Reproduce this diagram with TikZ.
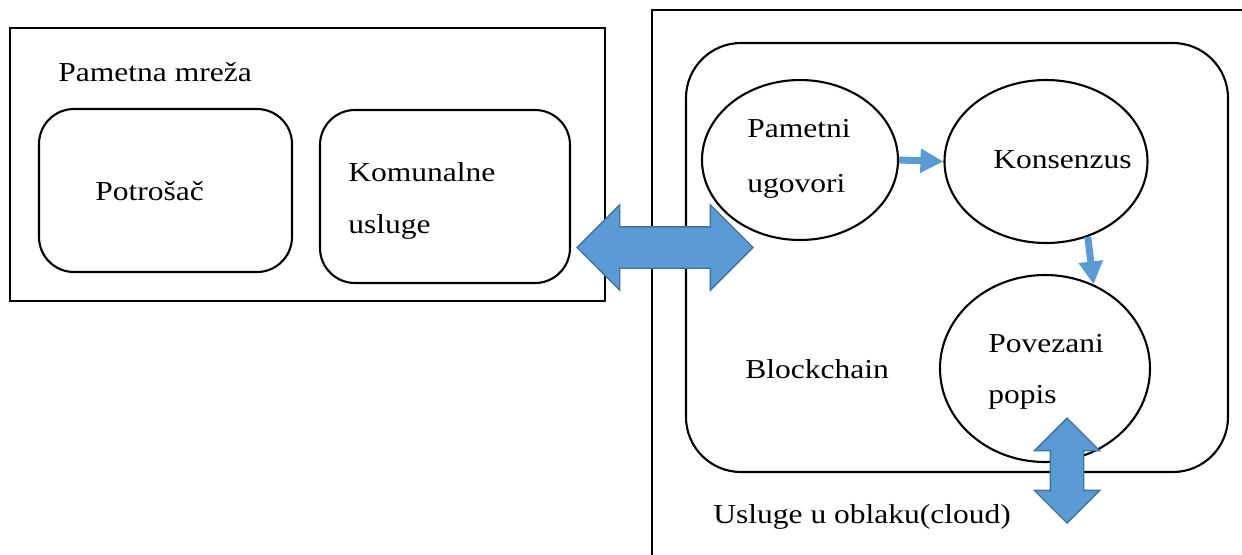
\documentclass[tikz,border=0pt]{standalone}
\usepackage{fontspec}
\setmainfont{Liberation Serif}[FakeStretch=1.15]
\usetikzlibrary{shapes.geometric,shapes.arrows,arrows.meta}
\definecolor{arrblue}{HTML}{5B9BD5}
\definecolor{arrline}{HTML}{41719C}
\begin{document}
\begin{tikzpicture}[x=0.02cm,y=-0.02cm]

\def\px{0.02cm}
\tikzstyle{frame} = [
	draw, line width=1.2pt, rectangle, inner sep=0pt ];
\tikzstyle{rbox} = [frame, rounded corners=35*\px];
\tikzstyle{oval} = [
	draw, line width=1.2pt, ellipse, inner sep=0pt ];
\tikzstyle{lbl} = [anchor=base west, inner sep=0pt,
	font=\fontsize{15.6}{18}\selectfont];
\tikzstyle{bigarrow} = [
	double arrow, fill=arrblue, draw=arrline, line width=0.8pt,
	inner xsep=0pt, double arrow tip angle=90 ];
\tikzstyle{smallarrow} = [
	arrblue, line width=7*\px,
	-{Triangle[width=23*\px,length=23*\px]} ];
\useasboundingbox (0,0) rectangle (1242,555);

% pametna mreza
\node[frame,minimum width=595*\px,minimum height=273*\px] (mreza) at (307.5,164.5) {};
\node[rbox,minimum width=253*\px,minimum height=163*\px] (potr) at (165.5,190.5) {};
\node[rbox,minimum width=250*\px,minimum height=173*\px] (komu) at (445,196.5) {};
\node[lbl] (tmreza) at (58,81) {Pametna mreža};
\node[lbl] (tpotr) at (95,200) {Potrošač};
\node[lbl] (tkomu1) at (348,181) {Komunalne};
\node[lbl] (tkomu2) at (348,233) {usluge};

% oblak
\draw[line width=1.2pt] (652,560) -- (652,10) -- (1250,10);
\node[frame,rounded corners=55*\px,minimum width=542*\px,minimum height=429*\px] (bc) at (957,257.5) {};
\node[oval,minimum width=196*\px,minimum height=160*\px] (pu) at (800,160) {};
\node[oval,minimum width=203*\px,minimum height=163*\px] (ko) at (1046,161.5) {};
\node[oval,minimum width=210*\px,minimum height=187*\px] (pp) at (1045,368.5) {};
\node[lbl] (tpu1) at (747,137) {Pametni};
\node[lbl] (tpu2) at (747,192) {ugovori};
\node[lbl] (tko) at (993,168) {Konsenzus};
\node[lbl] (tpp1) at (988,352) {Povezani};
\node[lbl] (tpp2) at (988,403) {popis};
\node[lbl] (tbc) at (745,378) {Blockchain};
\node[lbl] (tcloud) at (713,523) {Usluge u oblaku(cloud)};

\draw[smallarrow] (pu.east) -- (ko.west);
\draw[smallarrow] (ko.-61) -- (pp.60);

\node[bigarrow,minimum height=176*\px,inner ysep=20*\px,
	double arrow head extend=22*\px] (veza) at (665,247.5) {};
\node[bigarrow,rotate=90,minimum height=105*\px,inner ysep=16*\px,
	double arrow head extend=16*\px] (cloud) at (1067,470.5) {};

\end{tikzpicture}
\end{document}
